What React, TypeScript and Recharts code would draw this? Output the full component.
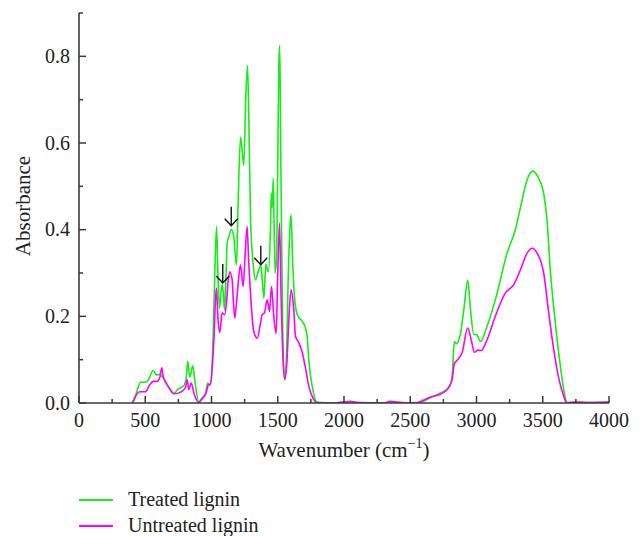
import React from 'react';
import { LineChart, Line, XAxis, YAxis, ReferenceDot, Label } from 'recharts';

// Wavenumber (cm-1) / absorbance
const treatedWavenumber = [
  400, 430, 464, 500, 520, 560, 585, 610, 630, 680, 716, 740, 753, 791, 810, 821, 836, 859, 875, 904,
  930, 955, 972, 985, 1000, 1013, 1025, 1038, 1048, 1060, 1070, 1081, 1090, 1098, 1108, 1118, 1131, 1151, 1168, 1180,
  1189, 1200, 1219, 1232, 1244, 1258, 1272, 1282, 1295, 1315, 1332, 1350, 1372, 1384, 1395, 1410, 1428, 1445, 1451, 1458,
  1466, 1472, 1480, 1490, 1500, 1508, 1515, 1522, 1532, 1545, 1553, 1565, 1580, 1595, 1601, 1612, 1626, 1647, 1680, 1704,
  1722, 1734, 1760, 1797, 1900, 2000, 2050, 2100, 2200, 2300, 2350, 2400, 2500, 2552, 2652, 2727, 2790, 2816, 2833, 2848,
  2878, 2904, 2934, 2955, 2979, 3000, 3030, 3080, 3142, 3231, 3293, 3344, 3382, 3427, 3469, 3507, 3532, 3557, 3595, 3633,
  3670, 3683, 3750, 3850, 4000,
];
const treatedAbsorbance = [
  0, 0.02, 0.048, 0.048, 0.052, 0.075, 0.065, 0.066, 0.06, 0.035, 0.021, 0.03, 0.033, 0.04, 0.06, 0.096, 0.06, 0.086, 0.05, 0.003,
  0.012, 0.023, 0.046, 0.04, 0.06, 0.16, 0.3, 0.407, 0.3, 0.219, 0.25, 0.273, 0.25, 0.215, 0.28, 0.369, 0.384, 0.4, 0.384, 0.34,
  0.319, 0.45, 0.614, 0.58, 0.549, 0.7, 0.779, 0.65, 0.42, 0.319, 0.284, 0.3, 0.318, 0.28, 0.242, 0.32, 0.303, 0.4, 0.484, 0.45,
  0.518, 0.42, 0.3, 0.33, 0.55, 0.78, 0.825, 0.6, 0.3, 0.08, 0.055, 0.1, 0.3, 0.42, 0.434, 0.33, 0.246, 0.204, 0.19, 0.178,
  0.154, 0.1, 0.039, 0.002, 0, 0.002, 0.003, 0.001, 0, 0, 0, 0.001, 0, 0, 0.012, 0.023, 0.035, 0.062, 0.142, 0.137,
  0.158, 0.215, 0.283, 0.215, 0.158, 0.158, 0.142, 0.177, 0.238, 0.346, 0.4, 0.468, 0.515, 0.535, 0.518, 0.484, 0.422, 0.307, 0.185, 0.085,
  0.012, 0, 0.002, 0.001, 0.002,
];

const untreatedWavenumber = [
  400, 409, 435, 459, 502, 530, 560, 590, 610, 625, 635, 660, 690, 716, 740, 766, 804, 816, 829, 847,
  870, 904, 930, 955, 980, 992, 1005, 1018, 1030, 1038, 1048, 1062, 1081, 1098, 1113, 1125, 1138, 1156, 1166, 1176,
  1188, 1199, 1219, 1239, 1255, 1269, 1280, 1294, 1319, 1345, 1370, 1382, 1400, 1420, 1438, 1453, 1470, 1488, 1500, 1513,
  1525, 1540, 1553, 1570, 1585, 1601, 1621, 1634, 1659, 1685, 1709, 1734, 1772, 1797, 1900, 2000, 2050, 2100, 2300, 2350,
  2400, 2500, 2552, 2652, 2727, 2778, 2816, 2833, 2858, 2891, 2934, 2960, 2985, 3009, 3034, 3080, 3142, 3218, 3281, 3331,
  3382, 3422, 3457, 3507, 3545, 3583, 3620, 3658, 3678, 3750, 3850, 4000,
];
const untreatedAbsorbance = [
  0, 0.003, 0.02, 0.026, 0.026, 0.04, 0.05, 0.05, 0.059, 0.081, 0.062, 0.045, 0.03, 0.022, 0.022, 0.025, 0.036, 0.054, 0.031, 0.046,
  0.02, 0.001, 0.01, 0.02, 0.043, 0.043, 0.08, 0.146, 0.24, 0.265, 0.2, 0.163, 0.208, 0.204, 0.231, 0.28, 0.303, 0.284, 0.23, 0.196,
  0.23, 0.269, 0.319, 0.269, 0.35, 0.407, 0.33, 0.254, 0.165, 0.15, 0.185, 0.204, 0.208, 0.238, 0.211, 0.269, 0.2, 0.16, 0.3, 0.415,
  0.25, 0.1, 0.054, 0.1, 0.2, 0.261, 0.215, 0.154, 0.139, 0.116, 0.081, 0.039, 0.008, 0, 0, 0.002, 0.004, 0.001, 0, 0.004,
  0.002, 0, 0.001, 0.014, 0.02, 0.031, 0.054, 0.091, 0.1, 0.116, 0.173, 0.146, 0.117, 0.122, 0.121, 0.146, 0.2, 0.254, 0.273, 0.307,
  0.346, 0.357, 0.346, 0.3, 0.208, 0.123, 0.058, 0.016, 0.001, 0.002, 0.001, 0.002,
];

const xTicks = [0, 250, 500, 750, 1000, 1250, 1500, 1750, 2000, 2250, 2500, 2750, 3000, 3250, 3500, 3750, 4000];
const yTicks = [0, 0.1, 0.2, 0.3, 0.4, 0.5, 0.6, 0.7, 0.8, 0.9];

// arrows marking bands (tip position)
const arrowX = [1085, 1149, 1372];
const arrowY = [0.277, 0.409, 0.319];

const seriesNames = ['Treated lignin', 'Untreated lignin'];
const GREEN = '#14ee14';
const MAGENTA = '#ff00ff';
const AXIS = '#3a3a3a';
const FONT = '"Liberation Serif", "Times New Roman", serif';

const treated = treatedWavenumber.map((x, i) => ({ x, y: treatedAbsorbance[i] }));
const untreated = untreatedWavenumber.map((x, i) => ({ x, y: untreatedAbsorbance[i] }));

function XTick(props: any) {
  const { x, y, payload } = props;
  const major = payload.value % 500 === 0;
  return (
    <g>
      <line x1={x} x2={x} y1={y} y2={y - (major ? 7 : 4)} stroke={AXIS} strokeWidth={1.5} />
      {major && (
        <text x={x} y={y + 23.5} textAnchor="middle" fontFamily={FONT} fontSize={20} fill="#222">
          {payload.value}
        </text>
      )}
    </g>
  );
}

function YTick(props: any) {
  const { x, y, payload } = props;
  const major = Math.round(payload.value * 10) % 2 === 0;
  return (
    <g>
      <line x1={x} x2={x + (major ? 7 : 4)} y1={y} y2={y} stroke={AXIS} strokeWidth={1.5} />
      {major && (
        <text x={x - 9} y={y + 6.5} textAnchor="end" fontFamily={FONT} fontSize={20} fill="#222">
          {payload.value.toFixed(1)}
        </text>
      )}
    </g>
  );
}

function Arrow(props: any) {
  const { cx, cy } = props;
  return (
    <g stroke="#111" strokeWidth={1.4} fill="none">
      <line x1={cx} x2={cx} y1={cy - 19} y2={cy} />
      <polyline points={`${cx - 6.5},${cy - 7} ${cx},${cy} ${cx + 6.5},${cy - 7}`} />
    </g>
  );
}

export default function App() {
  return (
    <div style={{ position: 'absolute', left: 0, top: 0, width: 640, height: 536, background: '#fff' }}>
      <LineChart width={640} height={536} margin={{ top: 13, right: 31, bottom: 0, left: 0 }}>
        <XAxis
          type="number"
          dataKey="x"
          domain={[0, 4000]}
          ticks={xTicks}
          interval={0}
          height={133}
          tickSize={0}
          tickMargin={0}
          tick={<XTick />}
          tickLine={false}
          axisLine={{ stroke: AXIS, strokeWidth: 1.6 }}
          allowDataOverflow
        >
          <Label
            content={(p: any) => {
              const vb = p.viewBox;
              return (
                <text x={vb.x + vb.width / 2} y={vb.y + 53.5} textAnchor="middle" fontFamily={FONT} fontSize={21} fill="#222">
                  Wavenumber (cm
                  <tspan dy={-9} fontSize={14}>−1</tspan>
                  <tspan dy={9}>)</tspan>
                </text>
              );
            }}
          />
        </XAxis>
        <YAxis
          type="number"
          dataKey="y"
          domain={[0, 0.9]}
          ticks={yTicks}
          interval={0}
          width={79}
          tickSize={0}
          tickMargin={0}
          tick={<YTick />}
          tickLine={false}
          axisLine={{ stroke: AXIS, strokeWidth: 1.6 }}
          allowDataOverflow
        >
          <Label
            content={() => (
              <text
                x={29.5}
                y={206}
                transform="rotate(-90 29.5 206)"
                textAnchor="middle"
                fontFamily={FONT}
                fontSize={21}
                fill="#222"
              >
                Absorbance
              </text>
            )}
          />
        </YAxis>
        <Line
          data={treated}
          dataKey="y"
          name={seriesNames[0]}
          type="monotone"
          stroke={GREEN}
          strokeWidth={1.6}
          dot={false}
          isAnimationActive={false}
        />
        <Line
          data={untreated}
          dataKey="y"
          name={seriesNames[1]}
          type="monotone"
          stroke={MAGENTA}
          strokeWidth={1.6}
          dot={false}
          isAnimationActive={false}
        />
        {arrowX.map((ax, i) => (
          <ReferenceDot key={ax} x={ax} y={arrowY[i]} ifOverflow="visible" shape={(p: any) => <Arrow {...p} />} />
        ))}
      </LineChart>
      <svg width={640} height={60} style={{ position: 'absolute', left: 0, top: 476 }}>
        {seriesNames.map((name, i) => (
          <g key={name}>
            <line x1={79} x2={113} y1={24 + i * 26} y2={24 + i * 26} stroke={i === 0 ? GREEN : MAGENTA} strokeWidth={1.8} />
            <text x={128} y={29.5 + i * 26.5} fontFamily={FONT} fontSize={20} fill="#222">
              {name}
            </text>
          </g>
        ))}
      </svg>
    </div>
  );
}
